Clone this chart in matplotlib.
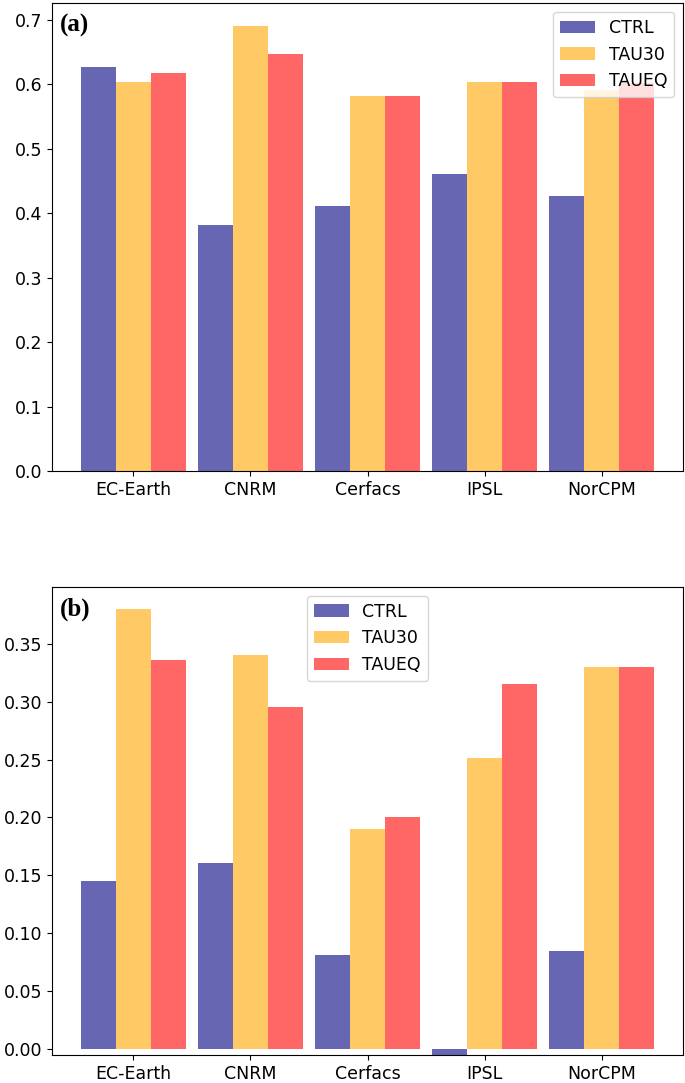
import numpy as np
import matplotlib
matplotlib.use('Agg')
import matplotlib.pyplot as plt

models = ['EC-Earth', 'CNRM', 'Cerfacs', 'IPSL', 'NorCPM']
labels = ['CTRL', 'TAU30', 'TAUEQ']
colors = ['navy', 'orange', 'red']

# panel (a)
a_ctrl = [0.626, 0.381, 0.411, 0.460, 0.427]
a_tau30 = [0.604, 0.691, 0.581, 0.604, 0.591]
a_taueq = [0.617, 0.647, 0.581, 0.604, 0.602]

# panel (b)
b_ctrl = [0.145, 0.161, 0.081, -0.005, 0.085]
b_tau30 = [0.380, 0.340, 0.190, 0.251, 0.330]
b_taueq = [0.336, 0.295, 0.200, 0.315, 0.330]

fig = plt.figure(figsize=(6.85, 10.83), dpi=100)
ax1 = fig.add_axes([0.076, 0.565, 0.921, 0.432])
ax2 = fig.add_axes([0.076, 0.026, 0.921, 0.432])

x = np.arange(len(models))
w = 0.3


def draw(ax, series, tag, loc):
    for i, (vals, lab, col) in enumerate(zip(series, labels, colors)):
        ax.bar(x + (i - 1) * w, vals, w, color=col, alpha=0.6, label=lab)
    ax.set_xticks(x)
    ax.set_xticklabels(models, fontsize=12.5)
    ax.tick_params(axis='y', labelsize=12.5)
    ax.text(0.013, 0.978, tag, transform=ax.transAxes, ha='left', va='top',
            fontsize=18, fontweight='bold', family='Liberation Serif')
    ax.legend(loc=loc, fontsize=12.5)


draw(ax1, [a_ctrl, a_tau30, a_taueq], '(a)', 'upper right')
draw(ax2, [b_ctrl, b_tau30, b_taueq], '(b)', 'upper center')
ax2.set_ylim(-0.005, 0.399)

fig.savefig('out.png', dpi=100)
